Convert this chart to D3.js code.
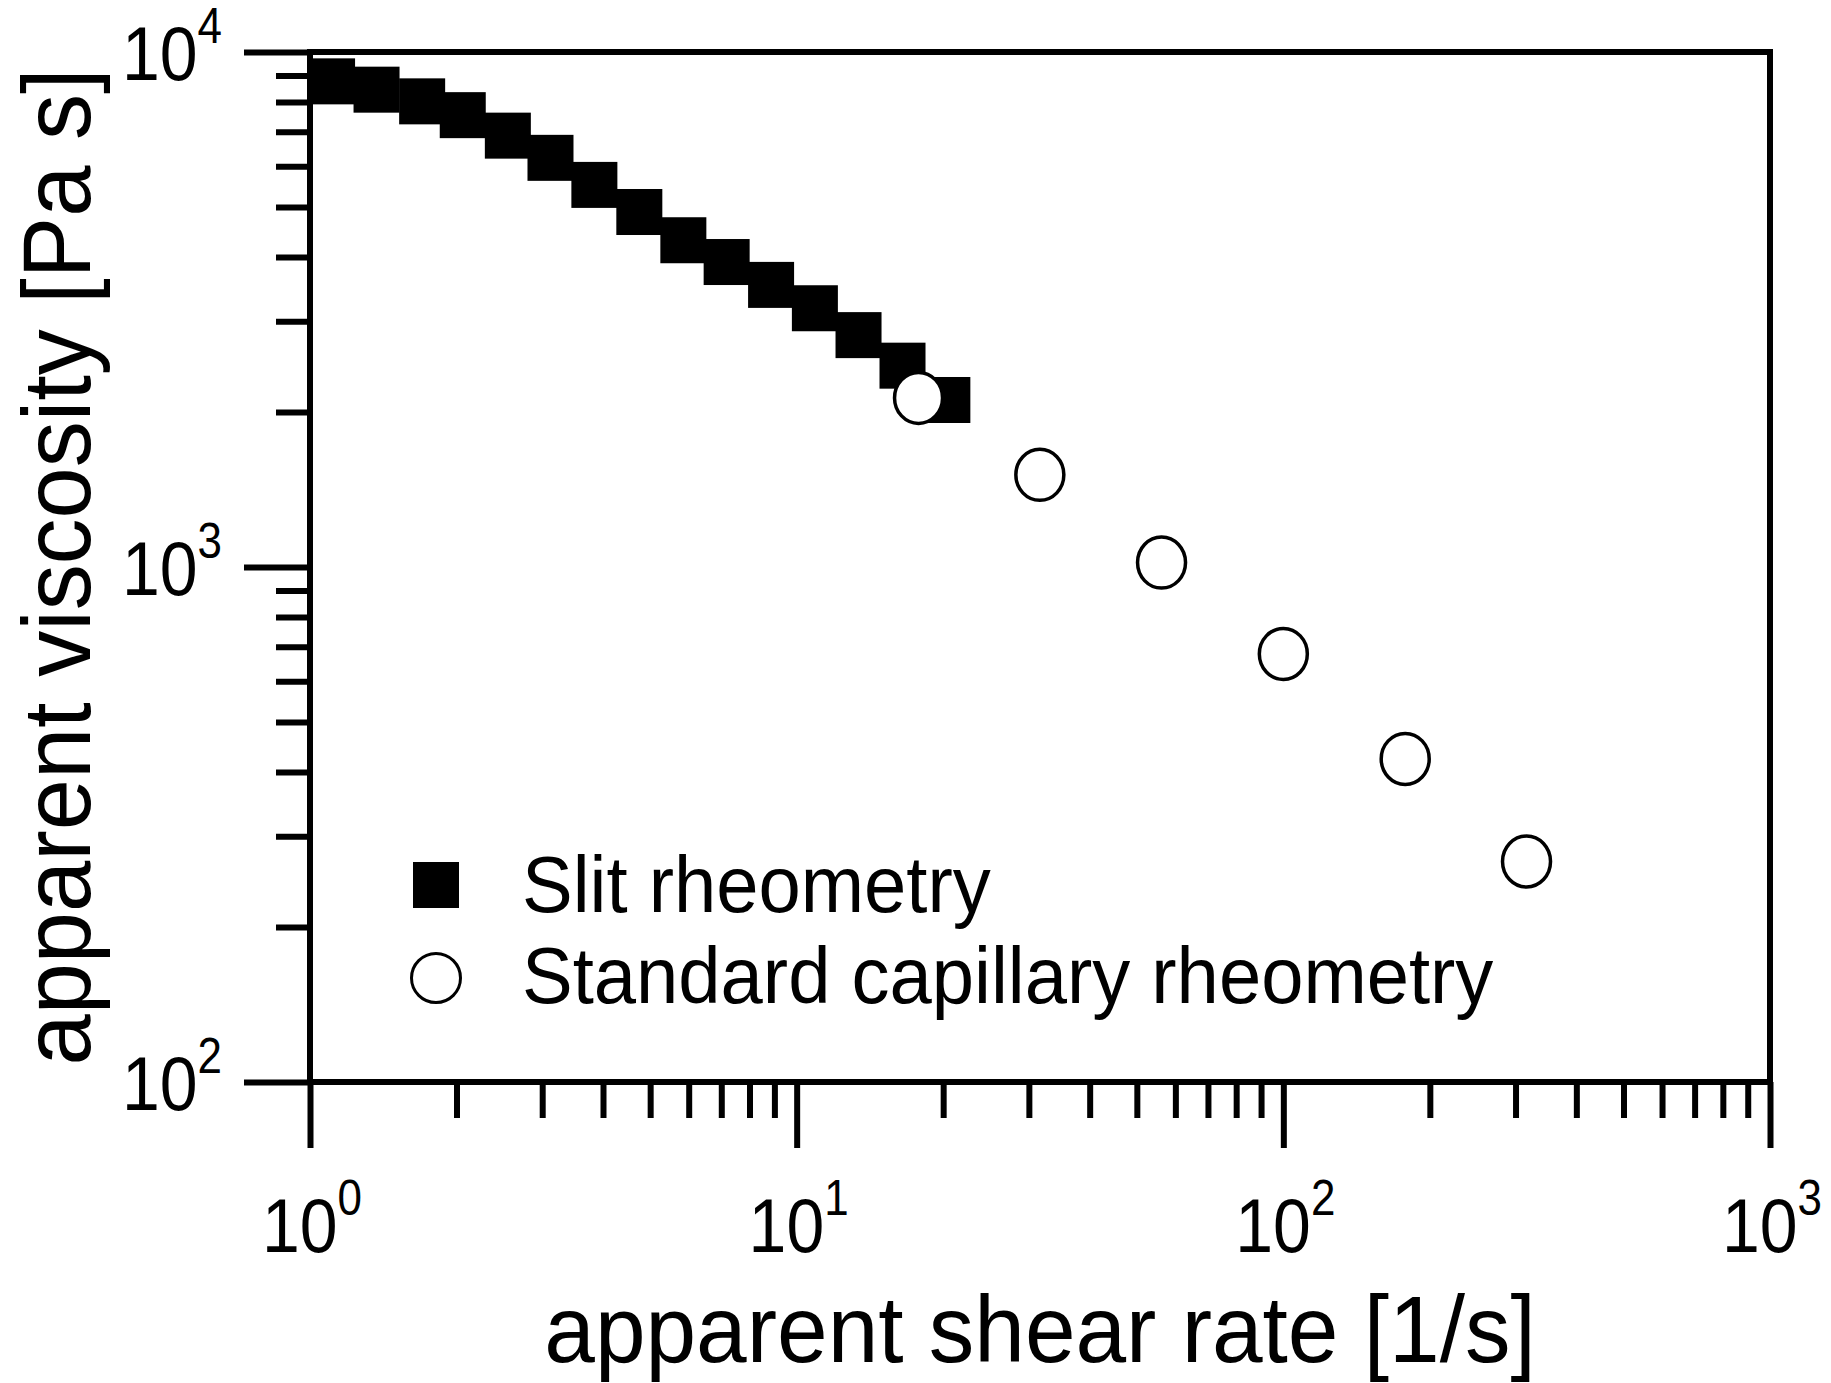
<!DOCTYPE html>
<html>
<head>
<meta charset="utf-8">
<script src="https://cdn.jsdelivr.net/npm/d3@7"></script>
<style>
  body { margin: 0; background: #fff; }
  text { font-family: "Liberation Sans", Arial, sans-serif; fill: #000; }
  .axis line { stroke: #000; stroke-width: 6; }
</style>
</head>
<body>
<script>
// slit rheometry (filled squares)
var slitRate = [1.11, 1.37, 1.70, 2.06, 2.55, 3.12, 3.84, 4.75, 5.85, 7.18, 8.86, 10.9, 13.4, 16.5, 20.4];
var slitViscosity = [8770, 8450, 8020, 7540, 6880, 6230, 5520, 4890, 4310, 3910, 3530, 3180, 2820, 2460, 2110];

// standard capillary rheometry (open circles)
var capRate = [17.8, 31.6, 56.2, 100, 178, 316];
var capViscosity = [2130, 1510, 1020, 678, 424, 268];

// decade tick labels, as powers of ten
var xTickExp = [0, 1, 2, 3];
var yTickExp = [2, 3, 4];

var seriesNames = ["Slit rheometry", "Standard capillary rheometry"];
var xTitle = "apparent shear rate [1/s]",
    yTitle = "apparent viscosity [Pa s]";

var width = 1831, height = 1383,
    margin = {top: 52, left: 310, right: 61, bottom: 301};

var svg = d3.select("body").append("svg")
    .attr("width", width)
    .attr("height", height);

var x = d3.scaleLog().domain([1, 1000]).range([margin.left, width - margin.right]),
    y = d3.scaleLog().domain([100, 10000]).range([height - margin.bottom, margin.top]);

var xMajor = xTickExp.map(e => Math.pow(10, e)),
    yMajor = yTickExp.map(e => Math.pow(10, e));
// minor ticks 2..9 in each decade
var minors = decs => d3.merge(decs.slice(0, -1).map(d => d3.range(2, 10).map(k => d * k)));
var xMinor = minors(xMajor), yMinor = minors(yMajor);

// x axis ticks
svg.append("g").attr("class", "axis")
    .attr("transform", `translate(0, ${y(100)})`)
    .call(d3.axisBottom(x).tickValues(xMinor).tickSize(36).tickFormat(""))
    .call(g => g.select(".domain").remove());
svg.append("g").attr("class", "axis")
    .attr("transform", `translate(0, ${y(100)})`)
    .call(d3.axisBottom(x).tickValues(xMajor).tickSize(66).tickFormat(""))
    .call(g => g.select(".domain").remove());

// y axis ticks
svg.append("g").attr("class", "axis")
    .attr("transform", `translate(${x(1)}, 0)`)
    .call(d3.axisLeft(y).tickValues(yMinor).tickSize(34).tickFormat(""))
    .call(g => g.select(".domain").remove());
svg.append("g").attr("class", "axis")
    .attr("transform", `translate(${x(1)}, 0)`)
    .call(d3.axisLeft(y).tickValues(yMajor).tickSize(66).tickFormat(""))
    .call(g => g.select(".domain").remove());

// frame
svg.append("rect")
    .attr("x", x(1)).attr("y", y(10000))
    .attr("width", x(1000) - x(1)).attr("height", y(100) - y(10000))
    .attr("fill", "none").attr("stroke", "#000").attr("stroke-width", 6);

// tick labels (the source figure is slightly stretched vertically)
var xl = svg.append("g").selectAll("text")
    .data(xTickExp).enter().append("text")
    .attr("transform", d => `translate(${x(Math.pow(10, d)) + 2}, ${y(100) + 170}) scale(1, 1.12)`)
    .attr("text-anchor", "middle")
    .attr("font-size", 68);
xl.append("tspan").text("10");
xl.append("tspan").attr("font-size", 44).attr("dy", -33).text(d => d);

var yl = svg.append("g").selectAll("text")
    .data(yTickExp).enter().append("text")
    .attr("transform", d => `translate(${x(1) - 88}, ${y(Math.pow(10, d)) + 28}) scale(1, 1.12)`)
    .attr("text-anchor", "end")
    .attr("font-size", 68);
yl.append("tspan").text("10");
yl.append("tspan").attr("font-size", 44).attr("dy", -33).text(d => d);

// axis titles
svg.append("text")
    .attr("transform", `translate(${(x(1) + x(1000)) / 2}, 1362) scale(1, 1.04)`)
    .attr("text-anchor", "middle")
    .attr("font-size", 91)
    .text(xTitle);
svg.append("text")
    .attr("transform", `translate(90, ${(y(100) + y(10000)) / 2}) rotate(-90) scale(1, 1.04)`)
    .attr("text-anchor", "middle")
    .attr("font-size", 92)
    .text(yTitle);

// data
var sq = 46;
var slit = slitRate.map((r, i) => ({rate: r, visc: slitViscosity[i]})),
    cap = capRate.map((r, i) => ({rate: r, visc: capViscosity[i]}));

svg.append("g").selectAll("rect")
    .data(slit).enter().append("rect")
    .attr("x", d => x(d.rate) - sq / 2)
    .attr("y", d => y(d.visc) - sq / 2)
    .attr("width", sq).attr("height", sq)
    .attr("fill", "#000");

svg.append("g").selectAll("ellipse")
    .data(cap).enter().append("ellipse")
    .attr("cx", d => x(d.rate))
    .attr("cy", d => y(d.visc))
    .attr("rx", 24).attr("ry", 25.5)
    .attr("fill", "#fff")
    .attr("stroke", "#000")
    .attr("stroke-width", 3.5);

// legend
var legend = svg.append("g");
legend.append("rect")
    .attr("x", 436 - sq / 2).attr("y", 885 - sq / 2)
    .attr("width", sq).attr("height", sq)
    .attr("fill", "#000");
legend.append("ellipse")
    .attr("cx", 436).attr("cy", 978)
    .attr("rx", 24.5).attr("ry", 24.5)
    .attr("fill", "#fff").attr("stroke", "#000").attr("stroke-width", 3);
legend.selectAll("text")
    .data(seriesNames).enter().append("text")
    .attr("transform", (d, i) => `translate(522, ${912 + i * 91}) scale(1, 1.06)`)
    .attr("font-size", 76)
    .text(d => d);
</script>
</body>
</html>
